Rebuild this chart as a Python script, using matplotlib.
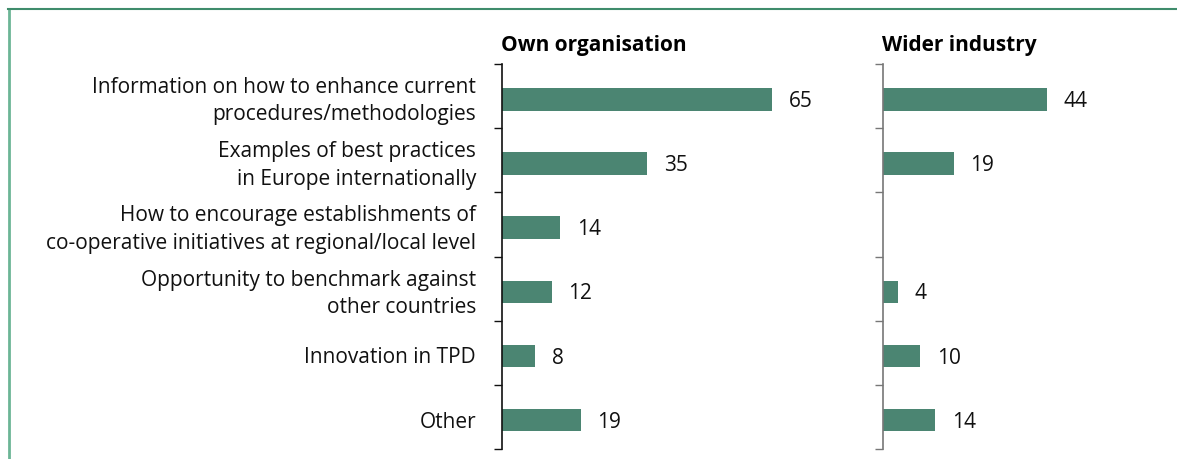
import matplotlib.pyplot as plt
from matplotlib.lines import Line2D
import numpy as np

plt.rcParams['font.family'] = ['Open Sans', 'DejaVu Sans']

categories = ["Information on how to enhance current\nprocedures/methodologies",
              "Examples of best practices\nin Europe internationally",
              "How to encourage establishments of\nco-operative initiatives at regional/local level",
              "Opportunity to benchmark against\nother countries",
              "Innovation in TPD",
              "Other"]
own_org = [65, 35, 14, 12, 8, 19]
wider_industry = [44, 19, None, 4, 10, 14]

bar_color = "#4b8572"
W, H = 1177, 459
fig = plt.figure(figsize=(W / 100, H / 100), dpi=100)

# panel geometry in pixels
top, bottom = 64, 449
ax1 = fig.add_axes([502 / W, 1 - bottom / H, 318 / W, (bottom - top) / H])
ax2 = fig.add_axes([883 / W, 1 - bottom / H, 267 / W, (bottom - top) / H])

n = len(categories)

def draw(ax, values, xmax, axis_color):
    for i, v in enumerate(values):
        if v is None:
            continue
        ax.barh(i + 0.05, v, height=0.35, color=bar_color)
        ax.annotate(str(v), (v, i + 0.05), xytext=(12, -1.5), textcoords="offset points",
                    va="center", ha="left", fontsize=15, color="#111111")
    ax.set_xlim(0, xmax)
    ax.set_ylim(n - 0.5, -0.5)
    ax.set_yticks(np.arange(n + 1) - 0.5)
    ax.set_yticklabels([])
    ax.set_xticks([])
    for s in ["top", "right", "bottom"]:
        ax.spines[s].set_visible(False)
    ax.spines["left"].set_color(axis_color)
    ax.spines["left"].set_linewidth(1.2)
    ax.tick_params(axis="y", length=6, width=1.0, color=axis_color)

draw(ax1, own_org, 318 / 4.15, "#111111")
draw(ax2, wider_industry, 267 / 3.73, "#777777")

# category labels
for i, c in enumerate(categories):
    ax1.text(-0.082, i + 0.08, c, transform=ax1.get_yaxis_transform(), ha="right",
             va="center", fontsize=15, color="#111111", linespacing=1.4)

fig.text(501 / W, 1 - 45 / H, "Own organisation", fontsize=15, fontweight="bold",
         ha="left", va="center")
fig.text(882 / W, 1 - 45 / H, "Wider industry", fontsize=15, fontweight="bold",
         ha="left", va="center")

# frame
fig.add_artist(Line2D([8.5 / W, 8.5 / W], [0, 1 - 9 / H], color="#6cb596", lw=2,
                      transform=fig.transFigure))
fig.add_artist(Line2D([8 / W, 1], [1 - 9 / H, 1 - 9 / H], color="#3f8c6c", lw=1.5,
                      transform=fig.transFigure))

fig.savefig("out.png", dpi=100)
